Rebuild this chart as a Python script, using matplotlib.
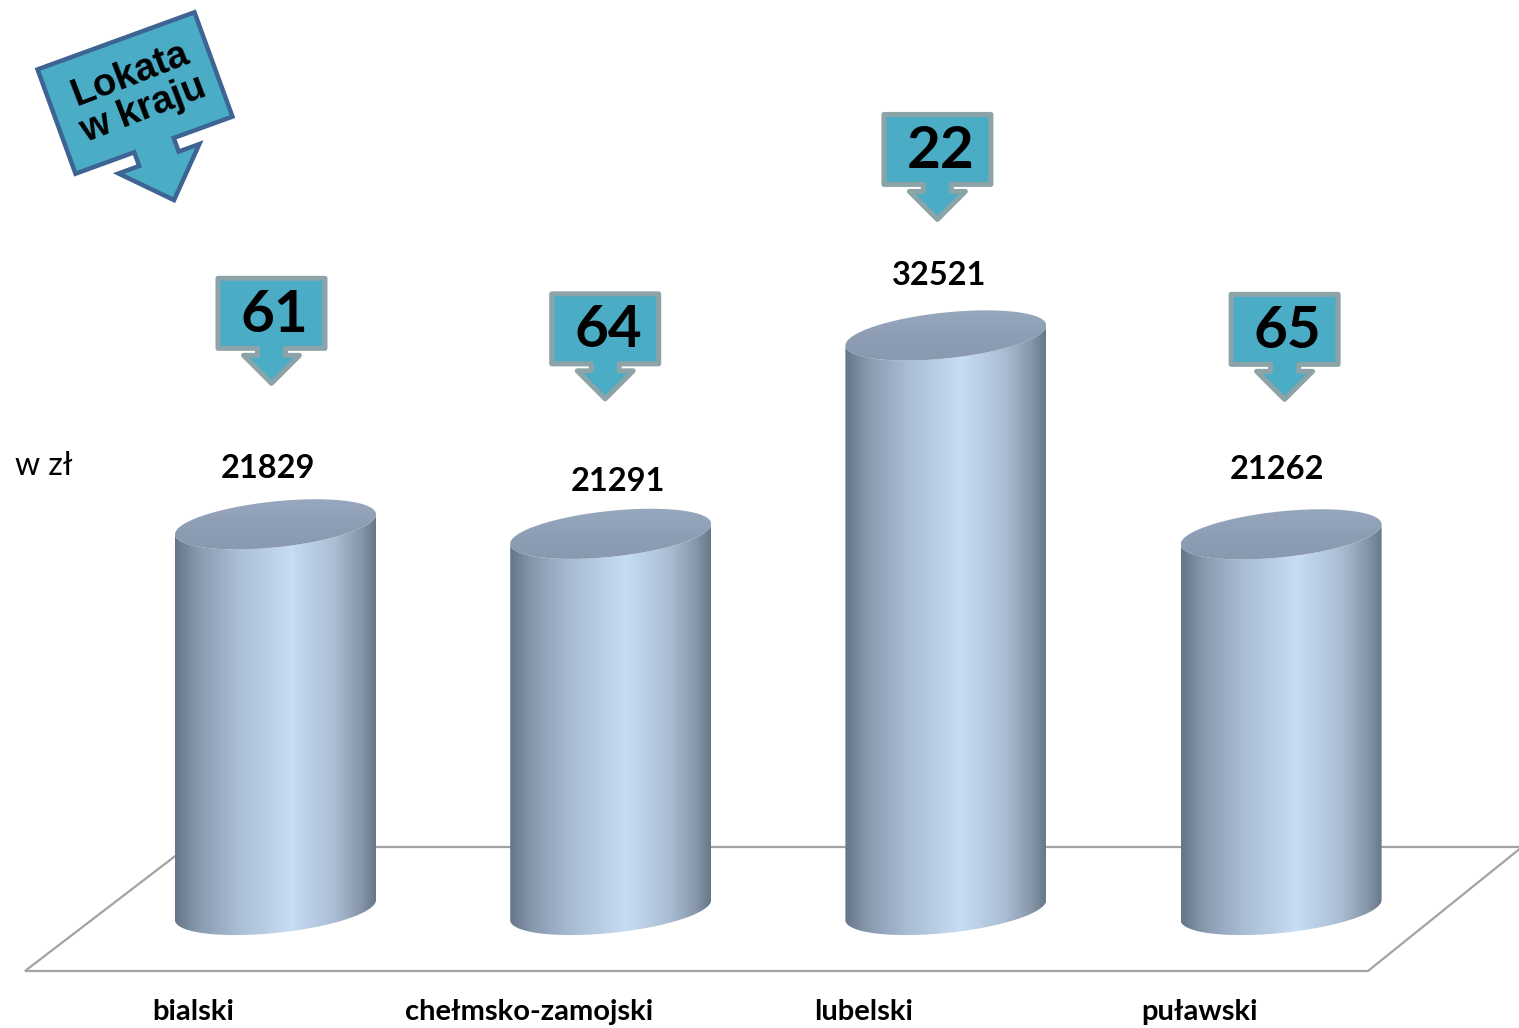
import numpy as np
import matplotlib.pyplot as plt
from matplotlib.patches import Polygon
from matplotlib.colors import LinearSegmentedColormap
from matplotlib.transforms import Affine2D

# Data
regions = ['bialski', 'chełmsko-zamojski', 'lubelski', 'puławski']
values = [21829, 21291, 32521, 21262]
ranks = [61, 64, 22, 65]

W, H = 1519, 1028
fig = plt.figure(figsize=(W / 100, H / 100), dpi=100)
ax = fig.add_axes([0, 0, 1, 1])
ax.axis('off')

# layout (pixels): bar centres 335 px apart, baseline at y=910, ~56.6 zł per px
step = 335.2
x0 = 275.5
upp = 56.6
base = 910
xlim = (-x0 / step, (W - x0) / step)
ylim = (-(H - base) * upp, base * upp)

# decorations in pixel coords (origin top-left)
pix = Affine2D().scale(1 / W, -1 / H).translate(0, 1) + fig.transFigure

# floor
floor = [(1522, 847), (187, 847), (25, 971), (1368, 971)]
ax.add_patch(Polygon(floor, closed=True, fill=False, edgecolor='#a3a3a3',
                     lw=1.6, transform=pix, zorder=0))

# cylinders
cyl_cmap = LinearSegmentedColormap.from_list('cyl', [
    (0.0, '#66768a'), (0.12, '#8a9bb0'), (0.32, '#aabed6'), (0.58, '#c7ddf3'),
    (0.80, '#a9bcd2'), (0.93, '#8696a9'), (1.0, '#68778a')])
top_cmap = LinearSegmentedColormap.from_list('top', ['#8797ad', '#8e9fb5', '#9aabc1'])

A = 100.5 / step
B = 23 * upp
K = 10 * upp
grad = np.linspace(0, 1, 256)[None, :]

label_gap = [56, 52, 60, 65]
label_dx = [-8, 7, -7, -4]

for i, v in enumerate(values):
    tb = np.linspace(np.pi, 2 * np.pi, 120)
    bottom = np.column_stack([i + A * np.cos(tb), B * np.sin(tb) + K * np.cos(tb)])
    tt = tb[::-1]
    top_front = np.column_stack([i + A * np.cos(tt), v + B * np.sin(tt) + K * np.cos(tt)])
    body = Polygon(np.vstack([bottom, top_front]), closed=True,
                   facecolor='none', edgecolor='none', zorder=2)
    ax.add_patch(body)
    im = ax.imshow(grad, cmap=cyl_cmap, aspect='auto', zorder=2,
                   extent=[i - A, i + A, -B - K, v + B + K])
    im.set_clip_path(body)

    t = np.linspace(0, 2 * np.pi, 240)
    top = Polygon(np.column_stack([i + A * np.cos(t), v + B * np.sin(t) + K * np.cos(t)]),
                  closed=True, facecolor='none', edgecolor='none', zorder=3)
    ax.add_patch(top)
    im2 = ax.imshow(grad.T[::-1], cmap=top_cmap, aspect='auto', zorder=3,
                    extent=[i - A, i + A, v - B - K, v + B + K])
    im2.set_clip_path(top)

    # value label
    ax.text(i + label_dx[i] / step, v + label_gap[i] * upp, f'{v}', ha='center',
            va='center', fontsize=23.5, fontweight='bold', family='Lato', zorder=5)

    # category label
    ax.text(i - 82 / step, -102 * upp, regions[i], ha='center', va='center',
            fontsize=21, fontweight='bold', family='Lato', zorder=5)

# rank callouts
rank_gap = [141, 135, 116, 135]
rank_dx = [-4, -5.5, -8.5, 3.5]
shape = [(-53.5, -105), (53.5, -105), (53.5, -35), (14, -35), (14, -28), (28, -28),
         (0, 0), (-28, -28), (-14, -28), (-14, -35), (-53.5, -35)]
for i, (v, r) in enumerate(zip(values, ranks)):
    cx = i + rank_dx[i] / step
    tip = v + rank_gap[i] * upp
    pts = [(cx + dx / step, tip - dy * upp) for dx, dy in shape]
    ax.add_patch(Polygon(pts, closed=True, facecolor='#4bacc6', edgecolor='#8ca3a8',
                         lw=3.6, joinstyle='round', zorder=4))
    ax.text(cx + 3 / step, tip + 68 * upp, str(r), ha='center', va='center',
            fontsize=42, fontweight='bold', family='Lato', zorder=5)

# "Lokata w kraju" callout
ang = np.deg2rad(20)
eu = np.array([np.cos(ang), -np.sin(ang)])
ev = np.array([np.sin(ang), np.cos(ang)])
c = np.array([135, 93])
local = [(-83.5, -55.5), (83.5, -55.5), (83.5, 55.5), (21, 55.5), (21, 70), (43, 70),
         (0, 114), (-43, 70), (-21, 70), (-21, 55.5), (-83.5, 55.5)]
lk = [c + u * eu + w * ev for u, w in local]
ax.add_patch(Polygon(lk, closed=True, facecolor='#4bacc6', edgecolor='#3d6492',
                     lw=3.2, joinstyle='miter', transform=pix, zorder=4))
ax.text(137, 92, 'Lokata\nw kraju', rotation=21, ha='center', va='center',
        rotation_mode='anchor', fontsize=27.5, fontweight='bold',
        family='Liberation Sans', linespacing=1.05, transform=pix, zorder=5)

# unit label
ax.text(15, 466, 'w zł', ha='left', va='center', fontsize=23, family='Lato',
        transform=pix, zorder=5)

ax.set_xlim(*xlim)
ax.set_ylim(*ylim)

plt.savefig('out.png', dpi=100)
